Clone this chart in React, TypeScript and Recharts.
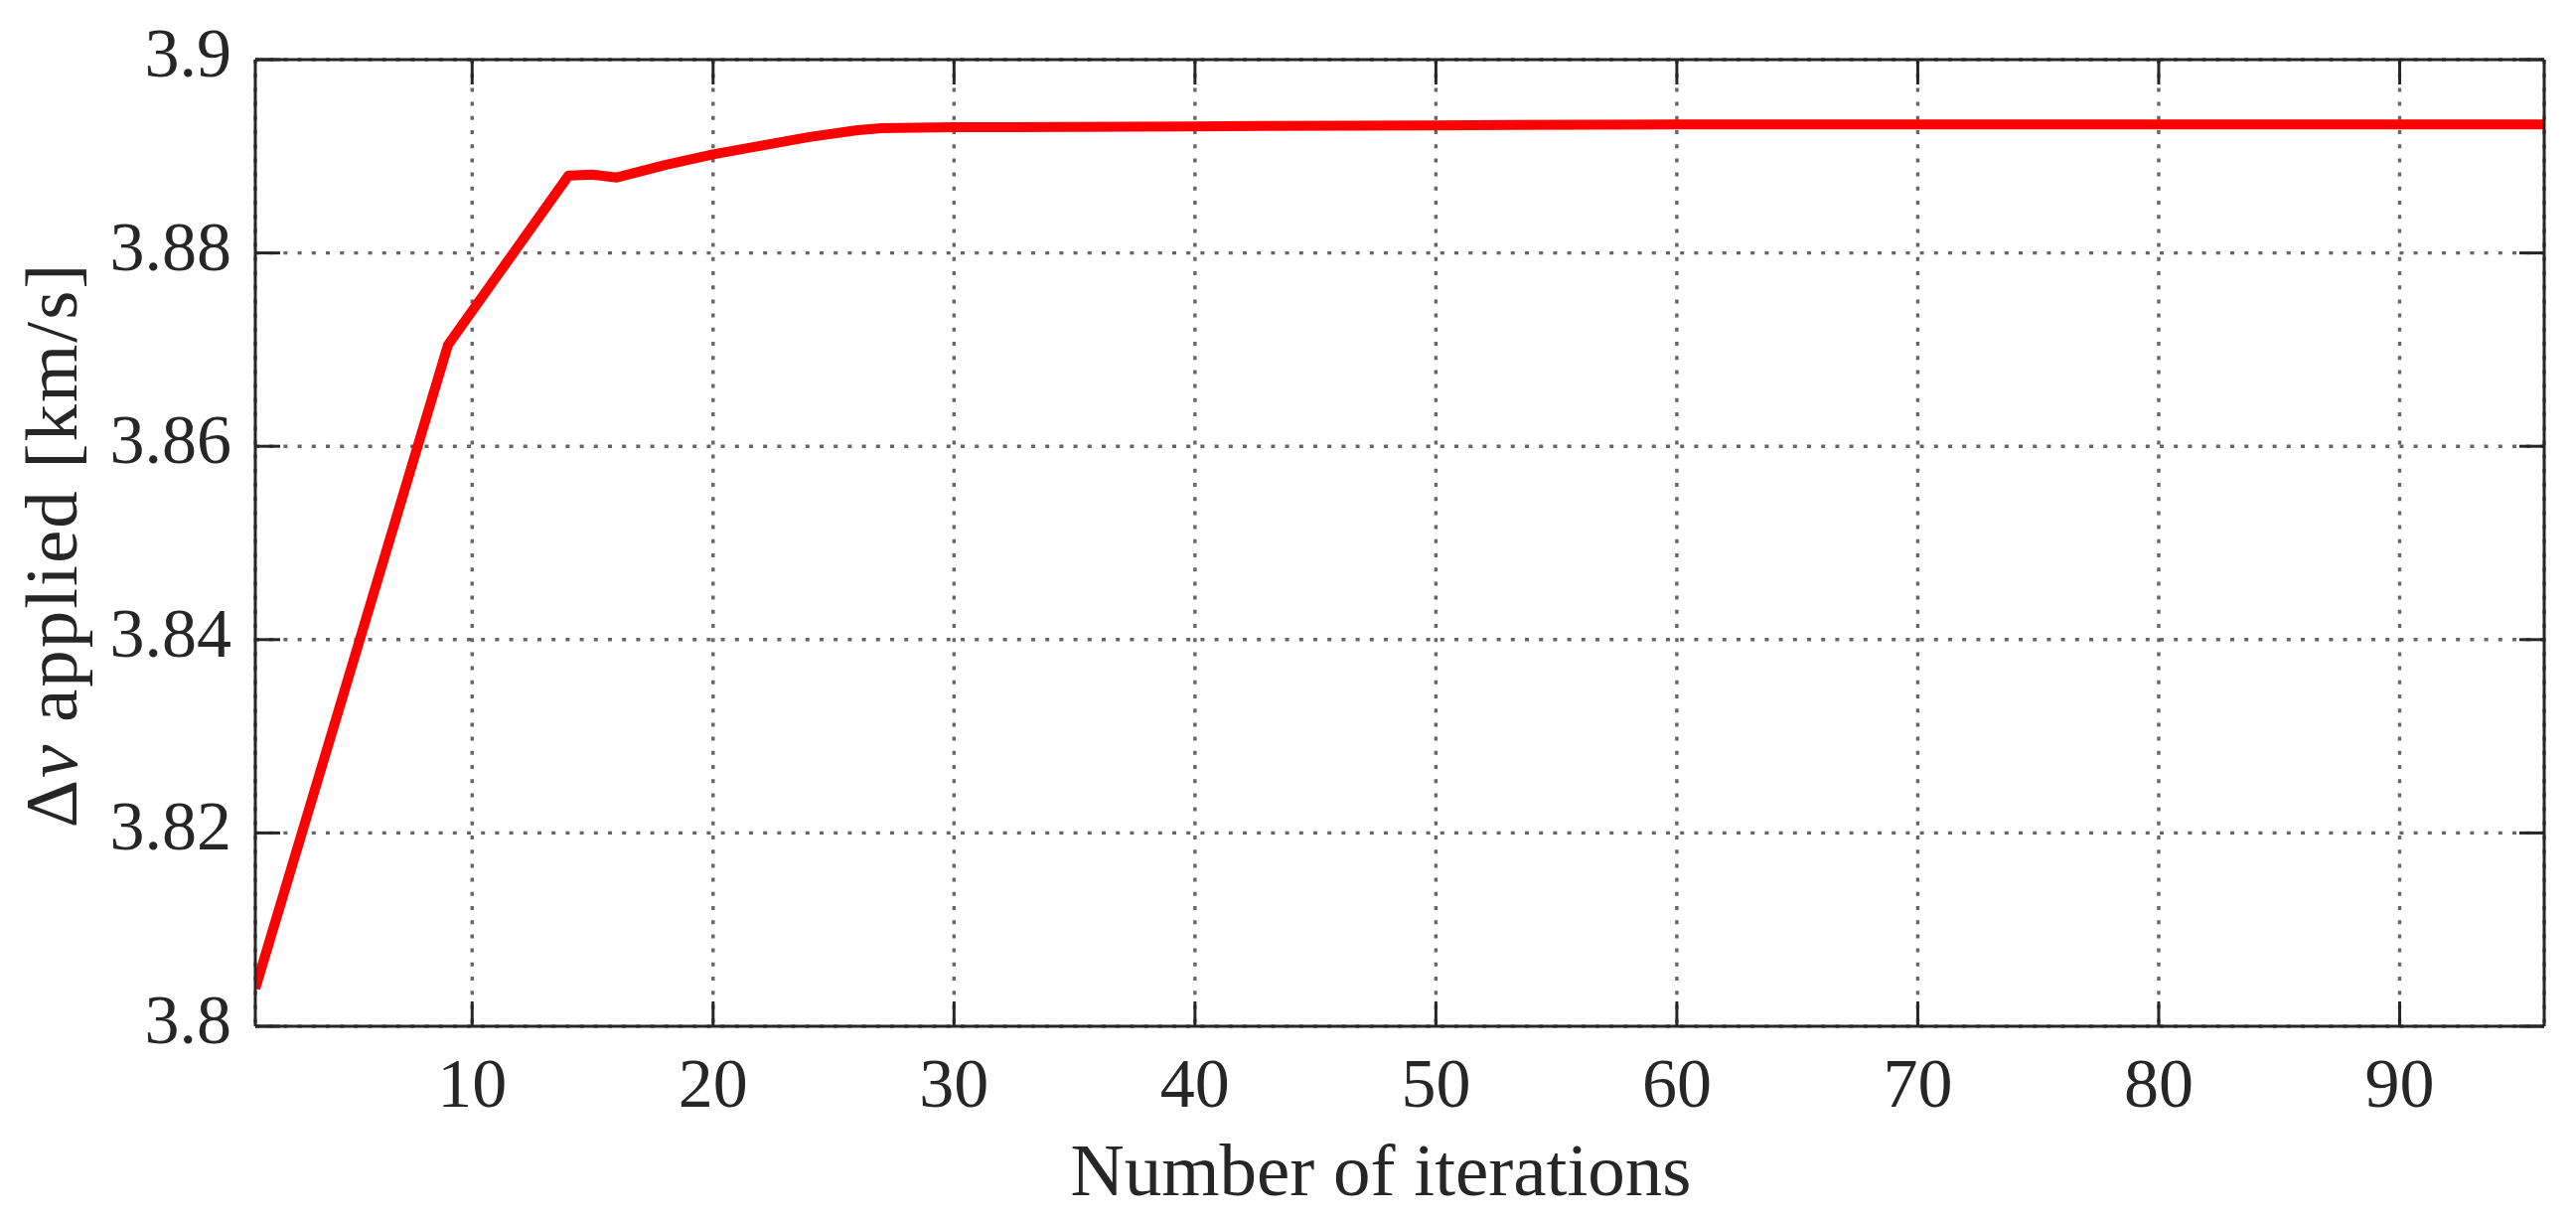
import React from 'react';
import { LineChart, Line, XAxis, YAxis, CartesianGrid } from 'recharts';

if (typeof document !== 'undefined') {
  document.body.style.margin = '0';
}

// ---- data ----
const iterations = [1, 9, 14, 15, 16, 18, 20, 22, 24, 26, 27, 30, 40, 50, 60, 96];
const deltaV = [
  3.8039, 3.8705, 3.888, 3.8881, 3.8878, 3.8891, 3.8902, 3.8911, 3.892, 3.8927,
  3.8929, 3.893, 3.8931, 3.8932, 3.8933, 3.8933,
];
const xTicks = [10, 20, 30, 40, 50, 60, 70, 80, 90];
const xTickLabels = ['10', '20', '30', '40', '50', '60', '70', '80', '90'];
const yTicks = [3.8, 3.82, 3.84, 3.86, 3.88, 3.9];
const yTickLabels = ['3.8', '3.82', '3.84', '3.86', '3.88', '3.9'];
const xDomain = [1, 96];
const yDomain = [3.8, 3.9];

const data = iterations.map((it, i) => ({ iter: it, dv: deltaV[i] }));

// ---- layout ----
const W = 2593;
const H = 1230;
const PLOT = { left: 257, top: 60, right: 2561, bottom: 1033 };
const TICK_LEN = 25;
const INK = '#262626';
const FONT = "'Liberation Serif', 'Times New Roman', serif";

const XTick = (props: any) => {
  const { x, payload } = props;
  const label = xTickLabels[xTicks.indexOf(payload.value)] ?? String(payload.value);
  return (
    <g>
      <line x1={x} x2={x} y1={PLOT.bottom} y2={PLOT.bottom - TICK_LEN} stroke={INK} strokeWidth={3} />
      <line x1={x} x2={x} y1={PLOT.top} y2={PLOT.top + TICK_LEN} stroke={INK} strokeWidth={3} />
      <text x={x} y={PLOT.bottom + 81} textAnchor="middle" fontFamily={FONT} fontSize={70} fill={INK}>
        {label}
      </text>
    </g>
  );
};

const YTick = (props: any) => {
  const { y, payload } = props;
  const idx = yTicks.findIndex((t) => Math.abs(t - payload.value) < 1e-9);
  const label = idx >= 0 ? yTickLabels[idx] : String(payload.value);
  return (
    <g>
      <line x1={PLOT.left} x2={PLOT.left + TICK_LEN} y1={y} y2={y} stroke={INK} strokeWidth={3} />
      <line x1={PLOT.right} x2={PLOT.right - TICK_LEN} y1={y} y2={y} stroke={INK} strokeWidth={3} />
      <text x={PLOT.left - 24} y={y + 17} textAnchor="end" fontFamily={FONT} fontSize={70} fill={INK}>
        {label}
      </text>
    </g>
  );
};

const XLabel = () => (
  <text
    x={1390}
    y={1203}
    textAnchor="middle"
    fontFamily={FONT}
    fontSize={75}
    fill={INK}
  >
    Number of iterations
  </text>
);

const YLabel = () => (
  <text
    transform={`translate(77, ${(PLOT.top + PLOT.bottom) / 2 + 2}) rotate(-90)`}
    textAnchor="middle"
    fontFamily={FONT}
    fontSize={75}
    fill={INK}
    letterSpacing={2}
  >
    Δ<tspan fontStyle="italic">v</tspan> applied [km/s]
  </text>
);

export default function App() {
  return (
    <LineChart
      width={W}
      height={H}
      data={data}
      margin={{ top: 0, right: 0, bottom: 0, left: 0 }}
      style={{ background: '#ffffff' }}
    >
      <CartesianGrid
        stroke="#666666"
        strokeWidth={3.4}
        strokeDasharray="4 10.2"
        xAxisId="bottom"
        yAxisId="left"
      />
      <XAxis
        xAxisId="bottom"
        dataKey="iter"
        type="number"
        domain={xDomain}
        ticks={xTicks}
        allowDataOverflow
        height={H - PLOT.bottom}
        axisLine={{ stroke: INK, strokeWidth: 3 }}
        tickLine={false}
        tick={<XTick />}
        interval={0}
        label={<XLabel />}
      />
      <XAxis
        xAxisId="top"
        orientation="top"
        dataKey="iter"
        type="number"
        domain={xDomain}
        allowDataOverflow
        height={PLOT.top}
        axisLine={{ stroke: INK, strokeWidth: 3 }}
        tickLine={false}
        tick={false}
      />
      <YAxis
        yAxisId="left"
        type="number"
        domain={yDomain}
        ticks={yTicks}
        allowDataOverflow
        width={PLOT.left}
        axisLine={{ stroke: INK, strokeWidth: 3 }}
        tickLine={false}
        tick={<YTick />}
        interval={0}
        label={<YLabel />}
      />
      <YAxis
        yAxisId="right"
        orientation="right"
        type="number"
        domain={yDomain}
        allowDataOverflow
        width={W - PLOT.right}
        axisLine={{ stroke: INK, strokeWidth: 3 }}
        tickLine={false}
        tick={false}
      />
      <Line
        xAxisId="bottom"
        yAxisId="left"
        dataKey="dv"
        type="linear"
        stroke="#ff0000"
        strokeWidth={10}
        strokeLinejoin="round"
        dot={false}
        activeDot={false}
        isAnimationActive={false}
      />
    </LineChart>
  );
}
